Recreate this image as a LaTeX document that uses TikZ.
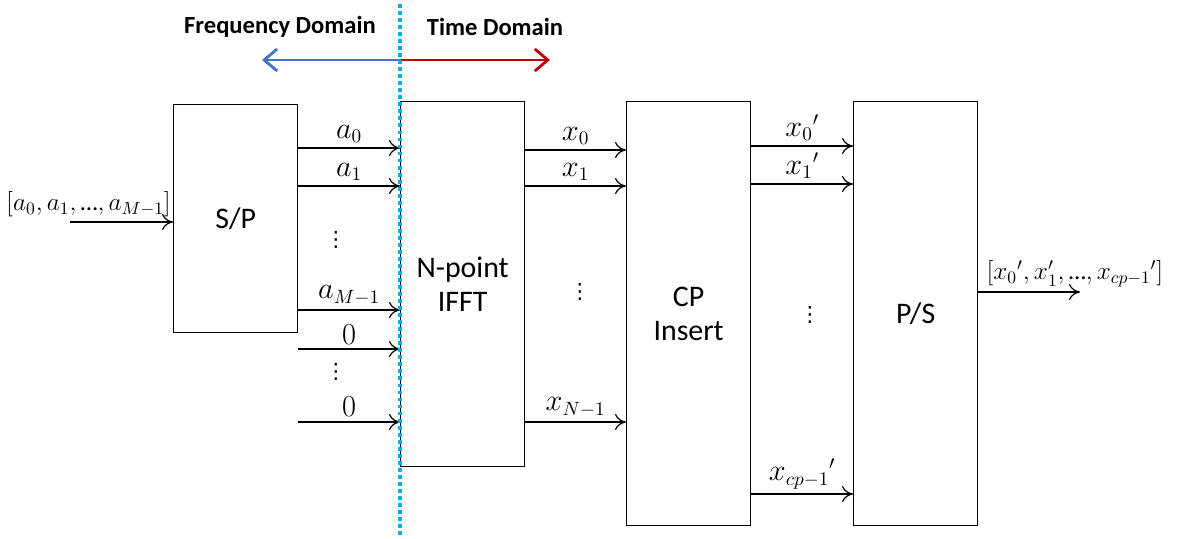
\documentclass[tikz,border=0pt]{standalone}
\usepackage{fontspec}
\setmainfont{Carlito}
\newfontfamily\dotsfont{DejaVu Sans}
\usepackage{tikz}
\usetikzlibrary{arrows.meta}

\definecolor{freqblue}{RGB}{68,114,196}
\definecolor{timered}{RGB}{192,0,0}
\definecolor{splitcyan}{RGB}{0,176,240}

\begin{document}
\begin{tikzpicture}[
  x=0.02cm, y=-0.02cm,
  block/.style={draw, line width=0.75pt, anchor=north west, minimum width=2.48cm, inner sep=0pt, align=center, font=\fontsize{17}{19.5}\selectfont},
  sig/.style={draw, line width=0.7pt, -{To[length=2.2mm,width=3.2mm]}},
  lbl/.style={above, inner sep=2.5pt, font=\fontsize{16}{18}\selectfont},
  vec/.style={above, inner sep=2.5pt, font=\fontsize{14}{16}\selectfont},
  dots/.style={inner sep=0pt, font=\dotsfont\fontsize{12}{14}\selectfont},
  dom/.style={font=\bfseries\fontsize{14}{16}\selectfont},
  domarrow/.style={line width=1.6pt, -{Straight Barb[length=2.6mm,width=4.4mm]}}
  ]
\useasboundingbox (0,0) rectangle (1177,538);

% blocks
\node[block, minimum height=4.56cm] (sp) at (173,104) {S/P};
\node[block, minimum height=7.30cm] (ifft) at (400,101) {N-point\\IFFT};
\node[block, minimum height=8.48cm] (cp) at (626,101) {CP\\Insert};
\node[block, minimum height=8.48cm] (ps) at (853,101) {P/S};

% input and output
\coordinate (in) at (70,222);
\draw[sig] (in) -- (sp.west |- in) node[vec, pos=0.18] (lin) {$[a_0, a_1, \mbox{…}, a_{M-1}]$};
\coordinate (out) at (1080,292);
\draw[sig] (ps.east |- out) -- (out) node[vec, pos=0.95] (lout) {$[{x_0}', x'_1, \mbox{…}, {x_{cp-1}}']$};

% S/P -> IFFT
\draw[sig] (sp.east |- 0,148) -- (ifft.west |- 0,148) node[lbl, midway] (la0) {$a_0$};
\draw[sig] (sp.east |- 0,186) -- (ifft.west |- 0,186) node[lbl, midway] (la1) {$a_1$};
\node[dots] (da) at (336,240) {⋮};
\draw[sig] (sp.east |- 0,310) -- (ifft.west |- 0,310) node[lbl, midway] (laM) {$a_{M-1}$};
\draw[sig] (sp.east |- 0,349) -- (ifft.west |- 0,349) node[lbl, midway] (lz0) {$0$};
\node[dots] (dz) at (336,372) {⋮};
\draw[sig] (sp.east |- 0,422) -- (ifft.west |- 0,422) node[lbl, midway] (lz1) {$0$};

% IFFT -> CP
\draw[sig] (ifft.east |- 0,150) -- (cp.west |- 0,150) node[lbl, midway] (lx0) {$x_0$};
\draw[sig] (ifft.east |- 0,186) -- (cp.west |- 0,186) node[lbl, midway] (lx1) {$x_1$};
\node[dots] (dx) at (580,292) {⋮};
\draw[sig] (ifft.east |- 0,422) -- (cp.west |- 0,422) node[lbl, midway] (lxN) {$x_{N-1}$};

% CP -> P/S
\draw[sig] (cp.east |- 0,146) -- (ps.west |- 0,146) node[lbl, midway] (lc0) {${x_0}'$};
\draw[sig] (cp.east |- 0,184) -- (ps.west |- 0,184) node[lbl, midway] (lc1) {${x_1}'$};
\node[dots] (dc) at (810,315) {⋮};
\draw[sig] (cp.east |- 0,494) -- (ps.west |- 0,494) node[lbl, midway] (lcp) {${x_{cp-1}}'$};

% domain header
\node[dom] (freq) at (280,27) {Frequency Domain};
\node[dom] (time) at (495,27) {Time Domain};
\coordinate (mid) at (400,60);
\coordinate (fend) at (262,60);
\coordinate (tend) at (550,60);
\draw[domarrow, freqblue] (mid) -- (fend);
\draw[domarrow, timered] (mid) -- (tend);

% split line
\coordinate (stop) at (400,4);
\coordinate (sbot) at (400,538);
\draw[splitcyan, line width=2.4pt, dash pattern=on 2.2pt off 1.8pt] (stop) -- (sbot);
\end{tikzpicture}
\end{document}
